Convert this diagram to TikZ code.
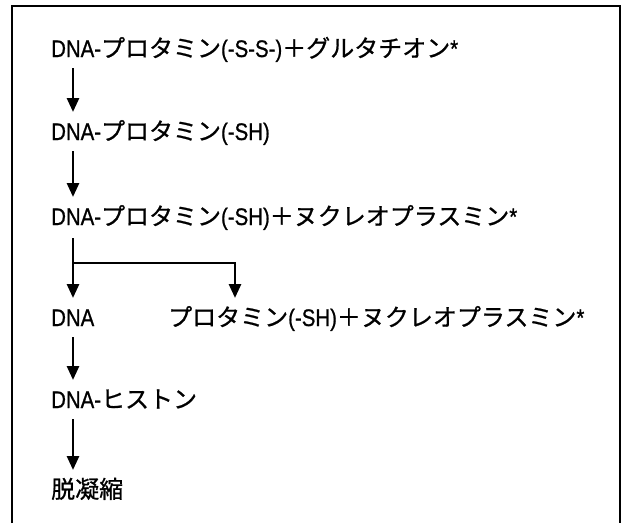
\documentclass[tikz,border=0pt]{standalone}
\usepackage{fontspec}
\setmainfont{Noto Sans CJK JP}[FakeBold=0.8]
\newfontfamily\lt{Liberation Sans}[FakeStretch=0.85,FakeBold=0.8]
\usetikzlibrary{arrows.meta}
\tikzset{
  lbl/.style={anchor=base west, inner sep=0pt, font=\fontsize{24}{24}\selectfont},
  arr/.style={line width=2.8pt, -{Triangle[width=12pt,length=14pt]}},
  brn/.style={line width=2.6pt},
  frame/.style={line width=1.6pt}
}
\begin{document}
\begin{tikzpicture}[x=1pt,y=1pt]
\useasboundingbox (0,0) rectangle (627,-523);
\draw[frame] (12,-523) -- (12,-6) -- (620,-6) -- (620,-523);
\node[lbl] (l1) at (51,-57) {{\lt DNA-}プロタミン{\lt (-S-S-)}＋グルタチオン{\lt *}};
\node[lbl] (l2) at (51,-140) {{\lt DNA-}プロタミン{\lt (-SH)}};
\node[lbl] (l3) at (51,-225) {{\lt DNA-}プロタミン{\lt (-SH)}＋ヌクレオプラスミン{\lt *}};
\node[lbl] (l4) at (51,-326) {{\lt DNA}};
\node[lbl] (l4b) at (168,-326) {プロタミン{\lt (-SH)}＋ヌクレオプラスミン{\lt *}};
\node[lbl] (l5) at (51,-408) {{\lt DNA-}ヒストン};
\node[lbl] (l6) at (51,-498) {脱凝縮};
\draw[arr] ([xshift=22pt,yshift=-11pt]l1.base west) -- ([xshift=22pt,yshift=28pt]l2.base west);
\draw[arr] ([xshift=22pt,yshift=-11pt]l2.base west) -- ([xshift=22pt,yshift=28pt]l3.base west);
\coordinate (bj) at ([xshift=22pt,yshift=-38pt]l3.base west);
\draw[arr] ([xshift=22pt,yshift=-13pt]l3.base west) -- ([xshift=22pt,yshift=28pt]l4.base west);
\draw[brn] (bj) -| ([xshift=67pt,yshift=40pt]l4b.base west) coordinate (bk);
\draw[arr] ([yshift=1pt]bk) -- ([xshift=67pt,yshift=28pt]l4b.base west);
\draw[arr] ([xshift=22pt,yshift=-11pt]l4.base west) -- ([xshift=22pt,yshift=28pt]l5.base west);
\draw[arr] ([xshift=22pt,yshift=-11pt]l5.base west) -- ([xshift=22pt,yshift=28pt]l6.base west);
\end{tikzpicture}
\end{document}
